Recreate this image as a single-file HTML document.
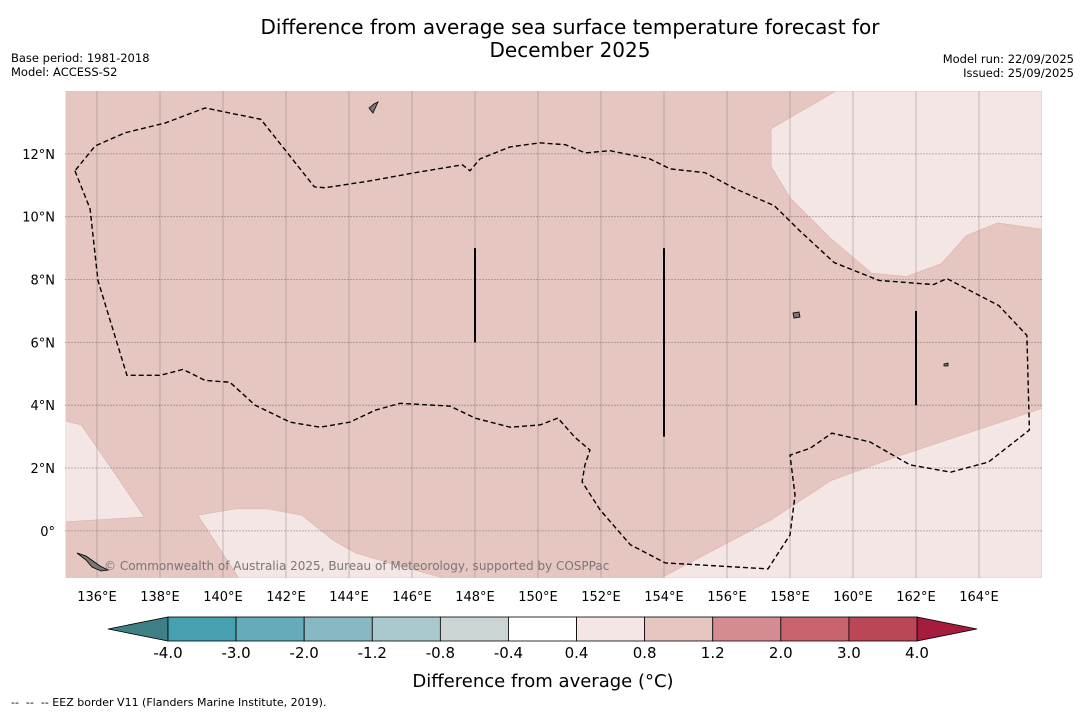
<!DOCTYPE html>
<html><head><meta charset="utf-8"><style>
body{margin:0;background:#fff;width:1085px;height:713px;overflow:hidden;font-family:"Liberation Sans","DejaVu Sans",sans-serif}
svg text{font-family:"DejaVu Sans","Liberation Sans",sans-serif}
</style></head><body>
<svg id="chart" width="1085" height="713" xmlns="http://www.w3.org/2000/svg">
<text x="570" y="34" text-anchor="middle" font-size="20">Difference from average sea surface temperature forecast for</text>
<text x="570" y="57" text-anchor="middle" font-size="20">December 2025</text>
<text x="11" y="62" font-size="11.5">Base period: 1981-2018</text>
<text x="11" y="76" font-size="11.5">Model: ACCESS-S2</text>
<text x="1074" y="63" font-size="11.5" text-anchor="end">Model run: 22/09/2025</text>
<text x="1074" y="77" font-size="11.5" text-anchor="end">Issued: 25/09/2025</text>
<g id="map"></g>
<g id="cbar"></g>
<text x="543" y="687" text-anchor="middle" font-size="18">Difference from average (°C)</text>
<text x="11" y="706" font-size="11" xml:space="preserve">--  --  -- EEZ border V11 (Flanders Marine Institute, 2019).</text>
</svg>
<script>
const lonTicks=[136,138,140,142,144,146,148,150,152,154,156,158,160,162,164];
const latTicks=[0,2,4,6,8,10,12];
const paleTopRight=[[159.46,14],[157.4,12.8],[157.4,11.6],[158.0,10.6],[159.3,9.3],[160.6,8.2],[161.7,8.1],[162.8,8.5],[163.6,9.4],[164.6,9.8],[166,9.6],[166,14]];
const paleBottomRight=[[166,3.9],[161.5,2.4],[159.3,1.6],[157.4,0.35],[153.9,-1.5],[166,-1.5]];
const paleBottomMid=[[139.2,0.5],[140.4,0.7],[141.4,0.7],[142.5,0.5],[143.5,-0.3],[144.2,-0.7],[145.2,-1.0],[147,-1.5],[140.5,-1.5]];
const paleLeft=[[135,3.5],[135.5,3.37],[136.6,1.78],[137.5,0.44],[135,0.29]];
const eezLon=[135.3,135.78,136.03,136.95,138.0,138.73,139.43,140.22,141.02,142.13,143.08,144.03,144.83,145.62,147.21,148.0,149.11,150.06,150.63,151.17,151.65,151.49,151.4,151.97,152.93,154.04,157.3,158.0,158.16,158.0,158.64,159.33,160.54,161.81,163.1,164.3,165.6,165.52,164.63,162.98,162.56,160.83,159.4,158.3,157.5,156.26,155.3,154.2,153.55,152.29,151.5,150.87,150.06,149.11,148.16,147.84,147.6,146.1,144.67,143.24,142.9,141.2,139.43,138.16,136.89,135.94];
const eezLat=[11.46,10.25,7.97,4.95,4.95,5.14,4.79,4.73,4.0,3.46,3.3,3.46,3.84,4.06,3.97,3.59,3.3,3.37,3.59,2.98,2.57,2.1,1.56,0.67,-0.44,-1.02,-1.21,-0.13,1.14,2.41,2.63,3.11,2.83,2.1,1.87,2.19,3.21,6.22,7.17,8.03,7.84,7.97,8.54,9.56,10.35,10.89,11.4,11.52,11.84,12.1,12.03,12.29,12.35,12.22,11.84,11.46,11.65,11.4,11.14,10.92,10.95,13.1,13.46,12.98,12.67,12.25];
const segLon=[148,154,162];
const segLat0=[6,3,4];
const segLat1=[9,9,7];
const cbLevels=["-4.0","-3.0","-2.0","-1.2","-0.8","-0.4","0.4","0.8","1.2","2.0","3.0","4.0"];
const cbColors=["#47a0b0","#65abb9","#88b8c4","#a9c9ce","#cbd5d6","#ffffff","#f4e6e4","#e6c6c1","#d48b92","#c7636c","#bb4656"];
const NS="http://www.w3.org/2000/svg";
const X0=65.5,Y0=91,X1=1042,Y1=578;
const lonMin=135,lonMax=166,latMin=-1.5,latMax=14;
const xs=l=>X0+(l-lonMin)/(lonMax-lonMin)*(X1-X0);
const ys=l=>Y1-(l-latMin)/(latMax-latMin)*(Y1-Y0);
function mk(t,a,p){const e=document.createElementNS(NS,t);for(const k in a)e.setAttribute(k,a[k]);p.appendChild(e);return e;}
const map=document.getElementById('map');
const bg=mk('rect',{x:X0,y:Y0,width:X1-X0,height:Y1-Y0,fill:'#e6c6c1'},map);


const clip=mk('clipPath',{id:'mc'},map);mk('rect',{x:X0,y:Y0,width:X1-X0,height:Y1-Y0},clip);
const g=mk('g',{'clip-path':'url(#mc)'},map);
const pales=[['pale-region-northeast',paleTopRight],['pale-region-southeast',paleBottomRight],['pale-region-south',paleBottomMid],['pale-region-west',paleLeft]];
pales.forEach(([n,pts])=>{
 const p=mk('polygon',{points:pts.map(q=>xs(q[0])+','+ys(q[1])).join(' '),fill:'#f4e6e4',stroke:'#d9b3ad','stroke-width':0.6},g);
 
 
});
lonTicks.forEach(l=>{
 const ln=mk('line',{x1:xs(l),x2:xs(l),y1:Y0,y2:Y1,stroke:'#8a7a78','stroke-opacity':0.45,'stroke-width':1},g);
 
 
 const t=mk('text',{x:xs(l),y:601,'text-anchor':'middle','font-size':13},map);t.textContent=l+'°E';
 
 
});
latTicks.forEach(l=>{
 const ln=mk('line',{x1:X0,x2:X1,y1:ys(l),y2:ys(l),stroke:'#555','stroke-width':0.8,'stroke-dasharray':'1,2'},g);
 
 
 const t=mk('text',{x:55,y:ys(l)+5,'text-anchor':'end','font-size':13},map);t.textContent=l===0?'0°':l+'°N';
 
 
});
const eez=mk('polygon',{points:eezLon.map((l,i)=>xs(l)+','+ys(eezLat[i])).join(' '),fill:'none',stroke:'#000','stroke-width':1.4,'stroke-dasharray':'5,3'},g);


segLon.forEach((l,i)=>{
 const s=mk('line',{x1:xs(l),x2:xs(l),y1:ys(segLat0[i]),y2:ys(segLat1[i]),stroke:'#000','stroke-width':2},g);
 
 
});
const isl=mk('path',{d:'M77,553 L86,556 L93,561 L100,566 L108,570 L101,571 L92,567 L86,560Z M369,108 L374,104 L378,102 L373,113Z M793,313 L799,312 L800,317 L794,318Z M944,364 L948,363 L948,366 L944,366Z',fill:'#777',stroke:'#000','stroke-width':0.8},g);


const cr=mk('text',{x:104,y:570,'font-size':12,fill:'#777'},g);cr.textContent='© Commonwealth of Australia 2025, Bureau of Meteorology, supported by COSPPac';


const cb=document.getElementById('cbar');
const CX0=168,CX1=917,CY0=617,CY1=641;
const w=(CX1-CX0)/cbColors.length;
const lt=mk('polygon',{points:`${CX0},${CY0} ${CX0},${CY1} 108,629`,fill:'#3f7f86',stroke:'#000','stroke-width':0.8},cb);


const rt=mk('polygon',{points:`${CX1},${CY0} ${CX1},${CY1} 977,629`,fill:'#a51c3c',stroke:'#000','stroke-width':0.8},cb);


cbColors.forEach((c,i)=>{
 const r=mk('rect',{x:CX0+i*w,y:CY0,width:w,height:CY1-CY0,fill:c,stroke:'#000','stroke-width':0.8},cb);
 
 
});
cbLevels.forEach((v,i)=>{
 const t=mk('text',{x:CX0+i*w,y:658,'text-anchor':'middle','font-size':15},cb);t.textContent=v;
 
 
});
</script>
</body></html>
